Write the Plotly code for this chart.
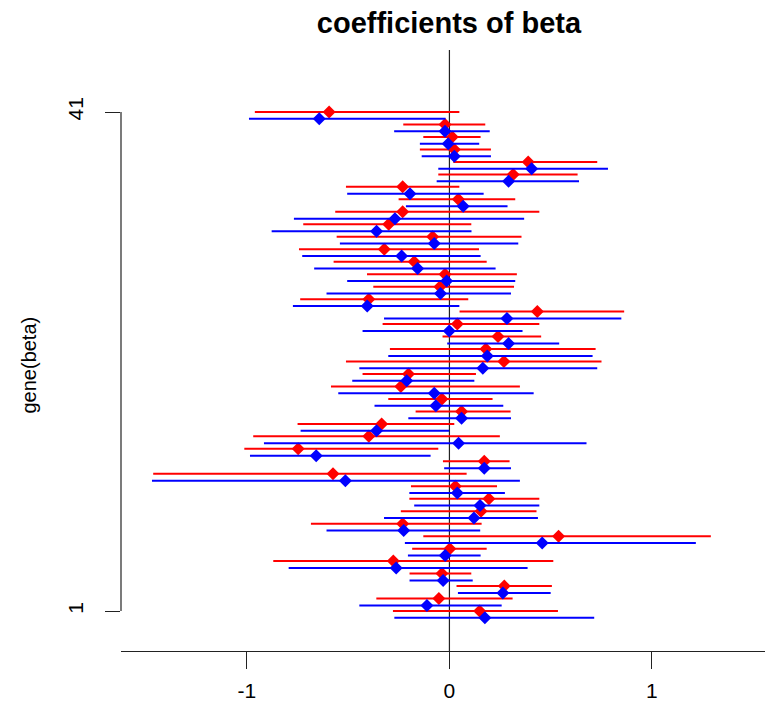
import plotly.graph_objects as go

# genes 1..41 (bottom to top)
genes = list(range(1, 42))

red_est = [0.149, -0.052, 0.271, -0.037, -0.277, 0.002, 0.539, -0.231, 0.156, 0.195,
           0.029, -0.575, 0.172, -0.747, -0.398, -0.335, 0.060, -0.037, -0.240, -0.202,
           0.269, 0.180, 0.240, 0.039, 0.434, -0.398, -0.047, -0.022, -0.174, -0.322,
           -0.083, -0.300, -0.231, 0.044, -0.231, 0.315, 0.389, 0.024, 0.014, -0.022,
           -0.594]
red_lo = [-0.279, -0.361, 0.035, -0.197, -0.870, -0.184, -0.129, -0.684, -0.240, -0.198,
          -0.190, -1.463, -0.032, -1.013, -0.969, -0.750, -0.167, -0.302, -0.585, -0.429,
          -0.511, -0.294, -0.034, -0.330, 0.050, -0.737, -0.376, -0.407, -0.572, -0.743,
          -0.557, -0.722, -0.564, -0.251, -0.511, -0.055, 0.019, -0.146, -0.129, -0.228,
          -0.961]
red_hi = [0.536, 0.312, 0.506, 0.108, 0.513, 0.184, 1.291, 0.159, 0.430, 0.444,
          0.235, 0.085, 0.297, -0.055, 0.249, 0.024, 0.302, 0.213, 0.348, 0.131,
          0.751, 0.722, 0.453, 0.444, 0.863, 0.093, 0.319, 0.333, 0.184, 0.146,
          0.356, 0.108, 0.444, 0.325, 0.049, 0.633, 0.730, 0.205, 0.154, 0.177,
          0.049]

blue_est = [0.175, -0.111, 0.264, -0.031, -0.263, -0.021, 0.458, -0.226, 0.121, 0.151,
            0.039, -0.514, 0.172, -0.658, 0.045, -0.360, 0.060, -0.067, -0.075, -0.211,
            0.165, 0.187, 0.292, -0.001, 0.284, -0.406, -0.044, -0.014, -0.157, -0.236,
            -0.075, -0.360, -0.269, 0.068, -0.195, 0.292, 0.406, 0.024, -0.006, -0.022,
            -0.643]
blue_lo = [-0.272, -0.445, 0.042, -0.197, -0.794, -0.205, -0.220, -0.607, -0.323, -0.174,
           -0.198, -1.469, -0.026, -0.985, -0.916, -0.735, -0.203, -0.370, -0.549, -0.480,
           -0.445, -0.302, -0.011, -0.429, -0.323, -0.773, -0.607, -0.505, -0.668, -0.727,
           -0.541, -0.878, -0.768, -0.215, -0.505, -0.063, -0.055, -0.137, -0.146, -0.273,
           -0.990]
blue_hi = [0.715, 0.258, 0.500, 0.115, 0.386, 0.154, 1.217, 0.152, 0.437, 0.444,
           0.274, 0.348, 0.304, -0.093, 0.677, -0.001, 0.304, 0.266, 0.416, 0.123,
           0.730, 0.707, 0.542, 0.361, 0.849, 0.049, 0.304, 0.325, 0.228, 0.154,
           0.340, 0.109, 0.369, 0.287, 0.169, 0.640, 0.783, 0.205, 0.147, 0.199,
           -0.019]

blue_offset = 0.55

x_ticks = [-1, 0, 1]
x_tick_labels = ["-1", "0", "1"]
y_ticks = [1, 41]
y_tick_labels = ["1", "41"]

FONT = "Liberation Sans, Arial, sans-serif"
AX = "#222222"


def segments(lo, hi, ys):
    xs, yy = [], []
    for a, b, y in zip(lo, hi, ys):
        xs += [a, b, None]
        yy += [y, y, None]
    return xs, yy


red_y = [g for g in genes]
blue_y = [g - blue_offset for g in genes]

fig = go.Figure()
rx, ry = segments(red_lo, red_hi, red_y)
bx, by = segments(blue_lo, blue_hi, blue_y)
fig.add_trace(go.Scatter(x=rx, y=ry, mode="lines", line=dict(color="#ff0000", width=2),
                         hoverinfo="skip", showlegend=False))
fig.add_trace(go.Scatter(x=red_est, y=red_y, mode="markers",
                         marker=dict(symbol="diamond", size=10, color="#ff0000", line=dict(width=0)),
                         showlegend=False))
fig.add_trace(go.Scatter(x=bx, y=by, mode="lines", line=dict(color="#0000ff", width=2),
                         hoverinfo="skip", showlegend=False))
fig.add_trace(go.Scatter(x=blue_est, y=blue_y, mode="markers",
                         marker=dict(symbol="diamond", size=10, color="#0000ff", line=dict(width=0)),
                         showlegend=False))

# vertical zero line across the plot region
fig.add_shape(type="line", xref="x", yref="paper", x0=0, x1=0, y0=0, y1=1,
              line=dict(color=AX, width=1.2), layer="below")
# y axis line only between first and last tick (R style)
fig.add_shape(type="line", xref="paper", yref="y", x0=0, x1=0, y0=y_ticks[0], y1=y_ticks[-1],
              line=dict(color=AX, width=1.2))

# page body has an 8px margin, so the figure is sized to end at the window edge
fig.update_layout(
    width=765, height=702,
    margin=dict(l=113, r=0, t=42, b=59),
    paper_bgcolor="white", plot_bgcolor="white",
    font=dict(family=FONT, color="black"),
    title=dict(text="<b>coefficients of beta</b>", x=0.503, xref="paper", xanchor="center",
               y=1 - 15 / 702, yref="container", yanchor="middle",
               font=dict(family=FONT, size=29, color="black")),
    xaxis=dict(range=[-1.622, 1.598], showgrid=False, zeroline=False,
               showline=True, linecolor=AX, linewidth=1.2,
               ticks="outside", ticklen=17, tickcolor=AX, tickwidth=1.2,
               tickvals=x_ticks, ticktext=x_tick_labels, ticklabelstandoff=4,
               tickfont=dict(family=FONT, size=21, color="black")),
    yaxis=dict(range=[-2.206, 45.97], showgrid=False, zeroline=False, showline=False,
               ticks="outside", ticklen=15, tickcolor=AX, tickwidth=1.2,
               tickvals=y_ticks, ticktext=y_tick_labels, tickangle=-90, ticklabelstandoff=14,
               tickfont=dict(family=FONT, size=21, color="black")),
    annotations=[dict(text="gene(beta)", textangle=-90, xref="paper", yref="paper",
                      x=0, xshift=-92, xanchor="center", y=0.475, yanchor="middle",
                      showarrow=False, font=dict(family=FONT, size=20, color="black"))],
)

fig.write_html("out.html")
